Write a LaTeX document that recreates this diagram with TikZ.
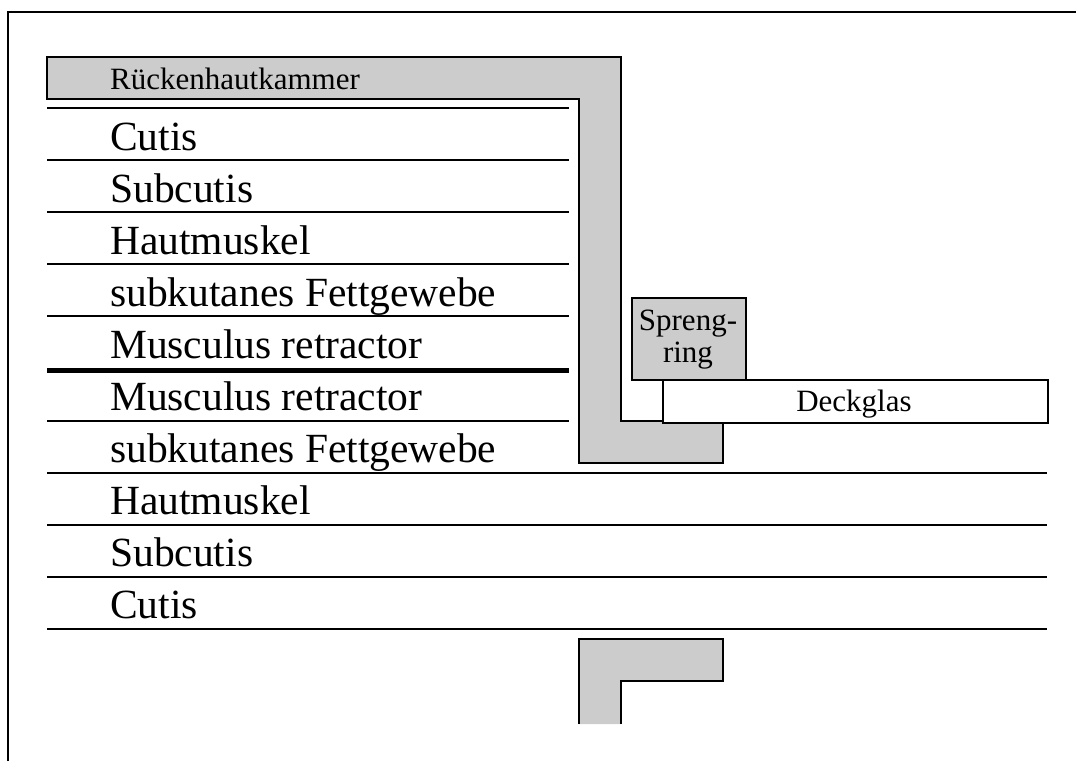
\documentclass[tikz,border=0pt]{standalone}
\usepackage{fontspec}
\setmainfont{Liberation Serif}
\definecolor{chamber}{gray}{0.8}
\begin{document}
\begin{tikzpicture}[x=1pt,y=-1pt,
  edge/.style={line width=1.5pt, line join=miter},
  layerline/.style={line width=1.5pt},
  thickline/.style={line width=5pt},
  frameline/.style={line width=2pt},
  biglabel/.style={font=\fontsize{41.5}{48}\selectfont, anchor=base west, inner sep=0pt},
  smalllabel/.style={font=\fontsize{31}{32}\selectfont, inner sep=0pt},
  partbox/.style={draw, line width=1.5pt, minimum width=#1, anchor=north west, inner sep=0pt}
]
\useasboundingbox (0,0) rectangle (1076,761);
% frame
\draw[frameline] (8,761) -- (8,12) -- (1076,12);
% upper chamber frame (L shape)
\fill[chamber] (47,57) -- (621,57) -- (621,421) -- (723,421) -- (723,463) -- (579,463) -- (579,99) -- (47,99) -- cycle;
\draw[edge] (47,57) -- (621,57) -- (621,421) -- (723,421) -- (723,463) -- (579,463) -- (579,99) -- (47,99) -- cycle;
\node[smalllabel, anchor=base west] (kammer) at (110,89) {Rückenhautkammer};
% lower chamber frame
\fill[chamber] (579,639) -- (723,639) -- (723,681) -- (621,681) -- (621,724) -- (579,724) -- cycle;
\draw[edge] (579,724) -- (579,639) -- (723,639) -- (723,681) -- (621,681) -- (621,724);
% layer lines upper half
\foreach \yy in {108,160,212,264,316,421} \draw[layerline] (47,\yy) -- (569,\yy);
\draw[thickline] (47,370) -- (569,370);
% layer lines lower half
\foreach \yy in {473,525,577,629} \draw[layerline] (47,\yy) -- (1047,\yy);
% layer labels
\node[biglabel] (l1) at (110,150) {Cutis};
\node[biglabel] (l2) at (110,202) {Subcutis};
\node[biglabel] (l3) at (110,254) {Hautmuskel};
\node[biglabel] (l4) at (110,306) {subkutanes Fettgewebe};
\node[biglabel] (l5) at (110,358) {Musculus retractor};
\node[biglabel] (l6) at (110,410) {Musculus retractor};
\node[biglabel] (l7) at (110,462) {subkutanes Fettgewebe};
\node[biglabel] (l8) at (110,514) {Hautmuskel};
\node[biglabel] (l9) at (110,566) {Subcutis};
\node[biglabel] (l10) at (110,618) {Cutis};
% Sprengring
\node[partbox=114pt, fill=chamber, minimum height=82pt] (ring) at (631,297) {};
\node[inner sep=0pt, align=center, font=\fontsize{31}{32}\selectfont, anchor=base] (ringtext) at (688,362) {Spreng-\\ring};
% Deckglas
\node[partbox=385pt, fill=white, minimum height=43pt] (glas) at (662,379) {};
\node[inner sep=0pt, font=\fontsize{31}{32}\selectfont, anchor=base] (glastext) at (854,411) {Deckglas};
\end{tikzpicture}
\end{document}
